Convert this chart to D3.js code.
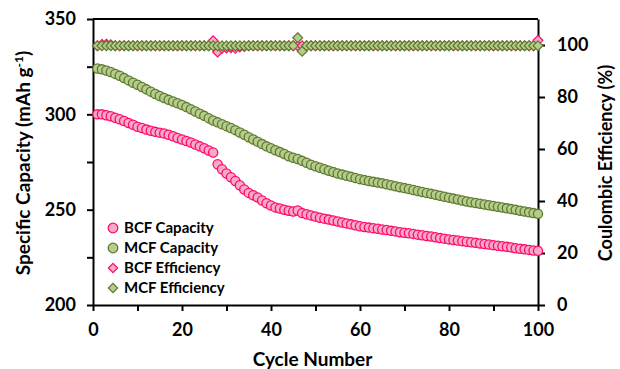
<!DOCTYPE html>
<html>
<head>
<meta charset="utf-8">
<script src="https://cdn.jsdelivr.net/npm/d3@7"></script>
<style>
    body { margin: 0; background: #fff; }
    #chart { width: 620px; height: 369px; }
    text { font-family: Lato, "Open Sans", sans-serif; font-weight: bold; fill: #000; }
</style>
</head>
<body>
<div id="chart"></div>
<script>
// ---- data ----
const cycles = d3.range(1, 101);

const bcfCapacity = [
    300.0, 300.0, 299.5, 299.0, 298.2, 297.4, 296.5, 295.5, 294.5, 293.5,
    292.8, 292.0, 291.4, 290.8, 290.4, 290.0, 289.3, 288.5, 287.6, 286.8,
    286.0, 285.2, 284.2, 283.2, 282.2, 281.0, 280.0, 273.8, 271.2, 269.0,
    267.0, 265.0, 262.8, 260.6, 258.8, 257.6, 256.4, 254.8, 253.4, 252.2,
    251.2, 250.6, 250.0, 249.4, 249.0, 249.6, 248.2, 247.6, 247.0, 246.4,
    245.8, 245.3, 244.8, 244.3, 243.8, 243.3, 242.8, 242.3, 241.8, 241.3,
    240.9, 240.6, 240.3, 240.0, 239.6, 239.3, 238.9, 238.6, 238.2, 237.9,
    237.6, 237.3, 236.9, 236.6, 236.2, 235.9, 235.5, 235.1, 234.8, 234.4,
    234.1, 233.8, 233.5, 233.2, 232.9, 232.6, 232.3, 232.0, 231.7, 231.4,
    231.1, 230.8, 230.5, 230.2, 229.8, 229.5, 229.2, 228.9, 228.6, 228.4
];

const mcfCapacity = [
    324.0, 323.6, 323.0, 322.2, 321.2, 320.2, 319.0, 317.8, 316.6, 315.5,
    314.3, 313.1, 311.9, 310.7, 309.6, 308.6, 307.6, 306.7, 305.8, 304.9,
    303.8, 302.7, 301.5, 300.3, 299.2, 298.0, 296.8, 295.8, 294.8, 293.8,
    292.8, 291.7, 290.5, 289.3, 288.0, 286.8, 285.6, 284.4, 283.2, 282.2,
    281.2, 280.2, 279.2, 278.0, 277.2, 276.6, 275.6, 274.6, 273.6, 272.8,
    272.0, 271.2, 270.4, 269.7, 269.0, 268.4, 267.8, 267.2, 266.6, 266.0,
    265.5, 265.0, 264.6, 264.2, 263.8, 263.3, 262.8, 262.3, 261.8, 261.3,
    260.8, 260.3, 259.8, 259.3, 258.8, 258.3, 257.8, 257.3, 256.8, 256.3,
    255.8, 255.3, 254.8, 254.3, 253.9, 253.5, 253.1, 252.7, 252.3, 251.9,
    251.5, 251.1, 250.7, 250.3, 249.9, 249.4, 249.0, 248.6, 248.2, 247.8
];

const bcfEfficiency = [
    99.7, 100.2, 100.3, 100.1, 99.7, 99.7, 99.7, 99.7, 99.7, 99.7,
    99.7, 99.7, 99.7, 99.7, 99.7, 99.7, 99.7, 99.7, 99.7, 99.7,
    99.7, 99.7, 99.7, 99.7, 99.7, 99.7, 101.6, 97.3, 98.8, 98.9,
    99.0, 98.8, 99.2, 99.4, 99.7, 99.7, 99.7, 99.7, 99.7, 99.7,
    99.7, 99.7, 99.7, 99.7, 99.7, 99.7, 99.7, 99.7, 99.7, 99.7,
    99.7, 99.7, 99.7, 99.7, 99.7, 99.7, 99.7, 99.7, 99.7, 99.7,
    99.7, 99.7, 99.7, 99.7, 99.7, 99.7, 99.7, 99.7, 99.7, 99.7,
    99.7, 99.7, 99.7, 99.7, 99.7, 99.7, 99.7, 99.7, 99.7, 99.7,
    99.7, 99.7, 99.7, 99.7, 99.7, 99.7, 99.7, 99.7, 99.7, 99.7,
    99.7, 99.7, 99.7, 99.7, 99.7, 99.7, 99.7, 99.7, 99.7, 101.8
];

const mcfEfficiency = [
    99.7, 99.7, 99.7, 99.7, 99.7, 99.7, 99.7, 99.7, 99.7, 99.7,
    99.7, 99.7, 99.7, 99.7, 99.7, 99.7, 99.7, 99.7, 99.7, 99.7,
    99.7, 99.7, 99.7, 99.7, 99.7, 99.7, 99.7, 99.7, 99.7, 99.7,
    99.7, 99.7, 99.7, 99.7, 99.7, 99.7, 99.7, 99.7, 99.7, 99.7,
    99.7, 99.7, 99.7, 99.7, 99.7, 102.8, 97.6, 99.7, 99.7, 99.7,
    99.7, 99.7, 99.7, 99.7, 99.7, 99.7, 99.7, 99.7, 99.7, 99.7,
    99.7, 99.7, 99.7, 99.7, 99.7, 99.7, 99.7, 99.7, 99.7, 99.7,
    99.7, 99.7, 99.7, 99.7, 99.7, 99.7, 99.7, 99.7, 99.7, 99.7,
    99.7, 99.7, 99.7, 99.7, 99.7, 99.7, 99.7, 99.7, 99.7, 99.7,
    99.7, 99.7, 99.7, 99.7, 99.7, 99.7, 99.7, 99.7, 99.7, 99.7
];

const seriesNames = ["BCF Capacity", "MCF Capacity", "BCF Efficiency", "MCF Efficiency"];
const xTicks = [0, 20, 40, 60, 80, 100];
const leftTicks = [200, 250, 300, 350];
const rightTicks = [0, 20, 40, 60, 80, 100];

const pink = {fill: "#f8a9c8", stroke: "#ff0a6c"};
const green = {fill: "#b6cc8c", stroke: "#5d7a30"};

class CycleChart {
    constructor(parentElement) {
        this.parentElement = parentElement;
        this.initVis();
    }

    initVis() {
        let vis = this;
        vis.margin = {top: 19, right: 82, bottom: 64, left: 93};
        vis.width = 620 - vis.margin.left - vis.margin.right;
        vis.height = 369 - vis.margin.top - vis.margin.bottom;

        vis.svg = d3.select("#" + vis.parentElement).append("svg")
            .attr("width", 620)
            .attr("height", 369)
            .append("g")
            .attr("transform", "translate(" + vis.margin.left + "," + vis.margin.top + ")");

        vis.x = d3.scaleLinear().domain([0, 100]).range([0, vis.width]);
        vis.yL = d3.scaleLinear().domain([200, 350]).range([vis.height, 0]);
        vis.yR = d3.scaleLinear().domain([0, 110]).range([vis.height, 0]);

        vis.drawAxes();
        vis.updateVis();
    }

    drawAxes() {
        let vis = this;

        // top border
        vis.svg.append("line")
            .attr("x1", 0).attr("x2", vis.width)
            .attr("y1", 0).attr("y2", 0)
            .attr("stroke", "#000").attr("stroke-width", 2);

        // x axis: minor ticks every 10, labels every 20
        let xg = vis.svg.append("g")
            .attr("transform", "translate(0," + vis.height + ")")
            .call(d3.axisBottom(vis.x).tickValues(d3.range(0, 101, 10)).tickSize(6).tickSizeOuter(0)
                .tickFormat(d => xTicks.includes(d) ? d : ""));
        vis.styleAxis(xg);
        xg.selectAll("text").attr("y", 18).attr("dy", "0.71em");

        // left axis
        let lg = vis.svg.append("g")
            .call(d3.axisLeft(vis.yL).tickValues(d3.range(200, 351, 25)).tickSize(6).tickSizeOuter(0)
                .tickFormat(d => leftTicks.includes(d) ? d : ""));
        vis.styleAxis(lg);
        lg.selectAll("text").attr("x", -17);

        // right axis
        let rg = vis.svg.append("g")
            .attr("transform", "translate(" + vis.width + ",0)")
            .call(d3.axisRight(vis.yR).tickValues(rightTicks).tickSize(7).tickSizeOuter(0));
        vis.styleAxis(rg);
        rg.selectAll("text").attr("x", 19);

        // axis titles
        vis.svg.append("text")
            .attr("x", vis.width / 2 - 3)
            .attr("y", vis.height + 61)
            .attr("text-anchor", "middle")
            .attr("font-size", "19px")
            .text("Cycle Number");

        let lt = vis.svg.append("text")
            .attr("transform", "translate(" + (-63) + "," + (vis.height / 2 + 1) + ") rotate(-90)")
            .attr("text-anchor", "middle")
            .attr("font-size", "19px");
        lt.append("tspan").text("Specific Capacity (mAh g");
        lt.append("tspan").attr("font-size", "12px").attr("dy", "-7").text("-1");
        lt.append("tspan").attr("dy", "7").text(")");

        vis.svg.append("text")
            .attr("transform", "translate(" + (vis.width + 74) + "," + (vis.height / 2 + 1) + ") rotate(-90)")
            .attr("text-anchor", "middle")
            .attr("font-size", "18px")
            .text("Coulombic Efficiency (%)");
    }

    styleAxis(g) {
        g.select(".domain").attr("stroke", "#000").attr("stroke-width", 2);
        g.selectAll(".tick line").attr("stroke", "#000").attr("stroke-width", 2);
        g.selectAll("text")
            .attr("font-family", "Lato, 'Open Sans', sans-serif")
            .attr("font-weight", "bold")
            .attr("font-size", "18px")
            .attr("fill", "#000");
    }

    updateVis() {
        let vis = this;
        let diamond = d3.symbol().type(d3.symbolDiamond2).size(62);

        let circles = (vals, col, scale) => {
            vis.svg.append("g").selectAll("circle")
                .data(cycles)
                .enter()
                .append("circle")
                .attr("cx", d => vis.x(d))
                .attr("cy", (d, i) => scale(vals[i]))
                .attr("r", 4.6)
                .attr("fill", col.fill)
                .attr("stroke", col.stroke)
                .attr("stroke-width", 1.3);
        };
        let diamonds = (vals, col, scale) => {
            vis.svg.append("g").selectAll("path")
                .data(cycles)
                .enter()
                .append("path")
                .attr("d", diamond)
                .attr("transform", (d, i) => "translate(" + vis.x(d) + "," + scale(vals[i]) + ")")
                .attr("fill", col.fill)
                .attr("stroke", col.stroke)
                .attr("stroke-width", 1.2);
        };

        circles(bcfCapacity, pink, vis.yL);
        circles(mcfCapacity, green, vis.yL);
        diamonds(bcfEfficiency, pink, vis.yR);
        diamonds(mcfEfficiency, green, vis.yR);

        // legend
        let legend = vis.svg.append("g").attr("transform", "translate(20,209)");
        seriesNames.forEach((name, i) => {
            let row = legend.append("g").attr("transform", "translate(0," + (i * 20) + ")");
            let col = i % 2 === 0 ? pink : green;
            if (i < 2) {
                row.append("circle").attr("r", 4.8)
                    .attr("fill", col.fill).attr("stroke", col.stroke).attr("stroke-width", 1.3);
            } else {
                row.append("path").attr("d", d3.symbol().type(d3.symbolDiamond2).size(55))
                    .attr("fill", col.fill).attr("stroke", col.stroke).attr("stroke-width", 1.2);
            }
            row.append("text")
                .attr("x", 11)
                .attr("y", 5)
                .attr("font-size", "15px")
                .text(name);
        });
    }
}

new CycleChart("chart");
</script>
</body>
</html>
